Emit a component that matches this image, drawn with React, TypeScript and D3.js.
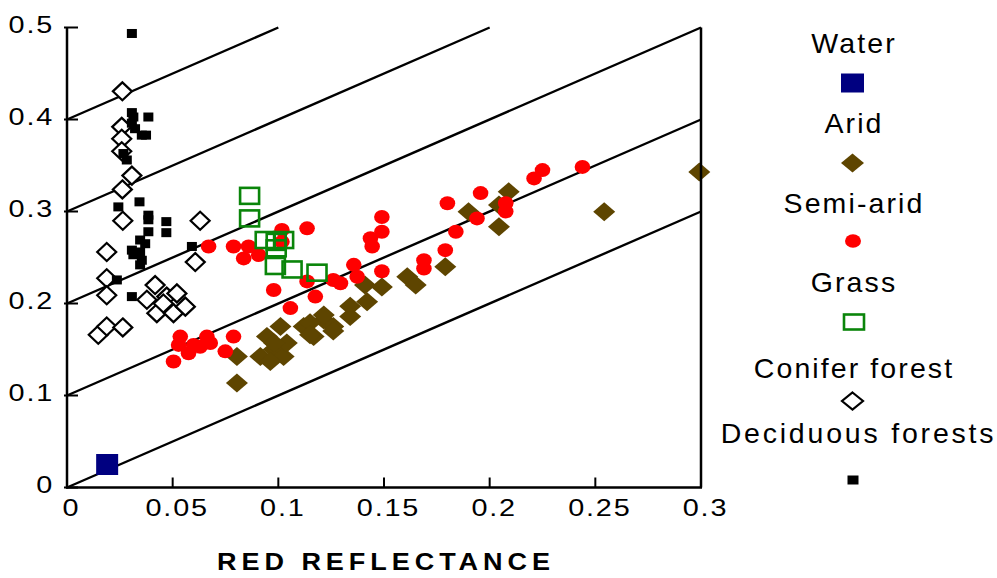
import React from "react";
import * as d3 from "d3";

// ---- data (red reflectance, NIR reflectance) ----
const waterPts: [number, number][] = [[0.019, 0.025]];

const aridPts: [number, number][] = [
  [0.0804, 0.1424], [0.0804, 0.1135], [0.0946, 0.164], [0.101, 0.175], [0.0915, 0.1424],
  [0.0978, 0.15], [0.1025, 0.1424], [0.0962, 0.137], [0.104, 0.157], [0.098, 0.157],
  [0.112, 0.175], [0.1167, 0.164], [0.1215, 0.182], [0.126, 0.175], [0.115, 0.179],
  [0.115, 0.166], [0.1215, 0.1876], [0.126, 0.17], [0.134, 0.197], [0.134, 0.186],
  [0.141, 0.22], [0.142, 0.202], [0.149, 0.218], [0.161, 0.229], [0.165, 0.22],
  [0.179, 0.24], [0.19, 0.2997], [0.2044, 0.307], [0.2044, 0.2835], [0.209, 0.3214],
  [0.2542, 0.2997], [0.2992, 0.343],
];

const semiAridPts: [number, number][] = [
  [0.0536, 0.164], [0.0662, 0.164], [0.0788, 0.164], [0.0528, 0.155], [0.0599, 0.155],
  [0.0678, 0.157], [0.0749, 0.148], [0.0504, 0.137], [0.0575, 0.146], [0.063, 0.153],
  [0.067, 0.262], [0.0788, 0.262], [0.0859, 0.262], [0.0836, 0.249], [0.0907, 0.2527],
  [0.1017, 0.28], [0.1017, 0.267], [0.1136, 0.2817], [0.0978, 0.2147], [0.1175, 0.2075],
  [0.1057, 0.195], [0.126, 0.2256], [0.1136, 0.224], [0.1294, 0.222], [0.1357, 0.242],
  [0.1373, 0.229], [0.149, 0.294], [0.149, 0.278], [0.1436, 0.271], [0.1444, 0.262],
  [0.149, 0.235], [0.1689, 0.247], [0.1689, 0.238], [0.179, 0.258], [0.18, 0.309],
  [0.184, 0.278], [0.194, 0.2925], [0.1957, 0.32], [0.2076, 0.309], [0.2076, 0.3],
  [0.221, 0.336], [0.225, 0.345], [0.2439, 0.3485],
];

const grassPts: [number, number][] = [
  [0.0864, 0.317], [0.0864, 0.2925], [0.0938, 0.269], [0.099, 0.267], [0.1025, 0.269],
  [0.099, 0.26], [0.0986, 0.2408], [0.1065, 0.237], [0.1183, 0.2335],
];

const coniferPts: [number, number][] = [
  [0.0262, 0.4306], [0.0259, 0.392], [0.0259, 0.379], [0.0259, 0.3655], [0.0307, 0.339],
  [0.0262, 0.324], [0.0264, 0.29], [0.063, 0.29], [0.0188, 0.256], [0.0607, 0.245],
  [0.0188, 0.2275], [0.0188, 0.209], [0.0417, 0.22], [0.0378, 0.204], [0.0472, 0.2075],
  [0.052, 0.211], [0.0425, 0.1895], [0.0504, 0.1895], [0.056, 0.1966], [0.0456, 0.2],
  [0.0148, 0.166], [0.0188, 0.175], [0.0264, 0.174],
];

const deciduousPts: [number, number][] = [
  [0.0307, 0.4935], [0.0307, 0.4075], [0.0314, 0.4027], [0.0385, 0.4027], [0.0307, 0.396],
  [0.0322, 0.39], [0.0354, 0.383], [0.0374, 0.383], [0.0267, 0.363], [0.0283, 0.356],
  [0.0243, 0.305], [0.0343, 0.3105], [0.0385, 0.296], [0.0385, 0.291], [0.0385, 0.278],
  [0.047, 0.289], [0.047, 0.277], [0.0346, 0.269], [0.037, 0.265], [0.0307, 0.258],
  [0.0346, 0.256], [0.0314, 0.253], [0.0354, 0.247], [0.0346, 0.242], [0.0591, 0.262],
  [0.0236, 0.2256], [0.0307, 0.2075],
];

const xTicks = [0, 0.05, 0.1, 0.15, 0.2, 0.25, 0.3];
const xTickLabels = ["0", "0.05", "0.1", "0.15", "0.2", "0.25", "0.3"];
const yTicks = [0, 0.1, 0.2, 0.3, 0.4, 0.5];
const yTickLabels = ["0", "0.1", "0.2", "0.3", "0.4", "0.5"];
const soilLineOffsets = [0, 0.1, 0.2, 0.3, 0.4];
const legendLabels = ["Water", "Arid", "Semi-arid", "Grass", "Conifer forest", "Deciduous forests"];
const xTitle = "RED REFLECTANCE";

const FONT = "'Liberation Sans', Arial, Helvetica, sans-serif";
const NAVY = "#000080";
const BROWN = "#5e4500";
const RED = "#ff0000";
const GREEN = "#0a850a";

export default function App() {
  const x = d3.scaleLinear().domain([0, 0.3]).range([67, 701]);
  const y = d3.scaleLinear().domain([0, 0.5]).range([487.5, 27.5]);
  const xMax = 0.3, yMax = 0.5;

  const line = d3.line<[number, number]>().x(d => x(d[0])).y(d => y(d[1]));

  const diamond = (cx: number, cy: number, w: number, h: number) =>
    `M${cx},${cy - h / 2}L${cx + w / 2},${cy}L${cx},${cy + h / 2}L${cx - w / 2},${cy}Z`;

  const drawWater = (cx: number, cy: number, w: number, h: number, k: string) => (
    <rect key={k} x={cx - w / 2} y={cy - h / 2} width={w} height={h} fill={NAVY} />
  );
  const drawArid = (cx: number, cy: number, k: string) => (
    <path key={k} d={diamond(cx, cy, 22, 19)} fill={BROWN} />
  );
  const drawSemi = (cx: number, cy: number, k: string) => (
    <ellipse key={k} cx={cx} cy={cy} rx={7.8} ry={7} fill={RED} />
  );
  const drawGrass = (cx: number, cy: number, k: string) => (
    <rect key={k} x={cx - 9.5} y={cy - 8} width={19} height={16} fill="none" stroke={GREEN} strokeWidth={2.6} />
  );
  const drawConifer = (cx: number, cy: number, k: string) => (
    <path key={k} d={diamond(cx, cy, 19, 18)} fill="#fff" stroke="#000" strokeWidth={2.2} />
  );
  const drawDecid = (cx: number, cy: number, k: string) => (
    <rect key={k} x={cx - 5} y={cy - 4.5} width={10} height={9} fill="#000" />
  );

  const legendX = 852.5;
  const legendTextY = [53, 133, 213, 292, 378, 443];
  const legendMarkY = [83, 163, 241, 322, 401, 480];
  const SX = 1.2;

  return (
    <svg width={997} height={578} style={{ position: "absolute", left: 0, top: 0, background: "#fff" }}
      fontFamily={FONT}>
      <rect x={0} y={0} width={997} height={578} fill="#fff" />

      {/* soil lines y = x + c */}
      {soilLineOffsets.map((c, i) => {
        const xEnd = Math.min(xMax, yMax - c);
        return (
          <path key={"l" + i} d={line([[0, c], [xEnd, xEnd + c]]) || ""} fill="none" stroke="#000" strokeWidth={2.4} />
        );
      })}

      {/* markers */}
      {coniferPts.map((p, i) => drawConifer(x(p[0]), y(p[1]), "c" + i))}
      {deciduousPts.map((p, i) => drawDecid(x(p[0]), y(p[1]), "d" + i))}
      {aridPts.map((p, i) => drawArid(x(p[0]), y(p[1]), "a" + i))}
      {semiAridPts.map((p, i) => drawSemi(x(p[0]), y(p[1]), "s" + i))}
      {grassPts.map((p, i) => drawGrass(x(p[0]), y(p[1]), "g" + i))}
      {waterPts.map((p, i) => drawWater(x(p[0]), y(p[1]), 22, 21, "w" + i))}

      {/* axes */}
      <line x1={x(0)} x2={x(0)} y1={y(0) + 1} y2={y(yMax)} stroke="#000" strokeWidth={2.5} />
      <line x1={x(0) - 1} x2={x(xMax) + 1} y1={y(0)} y2={y(0)} stroke="#000" strokeWidth={2.5} />
      <line x1={x(xMax)} x2={x(xMax)} y1={y(0)} y2={y(yMax)} stroke="#000" strokeWidth={2.5} />

      {yTicks.map((t, i) => (
        <g key={"yt" + i}>
          <line x1={x(0) - 3} x2={x(0) + 11} y1={y(t)} y2={y(t)} stroke="#000" strokeWidth={2} />
          <g transform={`translate(54,${y(t) + 5}) scale(${SX},1)`}>
            <text x={0} y={0} textAnchor="end" fontSize={24} letterSpacing={1.5} fill="#000">
              {yTickLabels[i]}
            </text>
          </g>
        </g>
      ))}
      {xTicks.map((t, i) => (
        <g key={"xt" + i}>
          <line x1={x(t)} x2={x(t)} y1={y(0)} y2={y(0) - 10} stroke="#000" strokeWidth={2} />
          <g transform={`translate(${x(t) + 4.5},516) scale(${SX},1)`}>
            <text x={0} y={0} textAnchor="middle" fontSize={24} letterSpacing={1.5} fill="#000">
              {xTickLabels[i]}
            </text>
          </g>
        </g>
      ))}

      <g transform={`translate(386,570) scale(1.15,1)`}>
        <text x={0} y={0} textAnchor="middle" fontSize={23.5} fontWeight="bold" letterSpacing={4.3} fill="#000">
          {xTitle}
        </text>
      </g>

      {/* legend */}
      {legendLabels.map((lab, i) => (
        <text key={"lt" + i} x={legendX + (i === 5 ? 6 : 1.5)} y={legendTextY[i]} textAnchor="middle"
          fontSize={28.5} letterSpacing={i === 5 ? 2.8 : 2.1} fill="#000">
          {lab}
        </text>
      ))}
      {drawWater(legendX, legendMarkY[0], 23, 19, "lw")}
      <path d={diamond(legendX, legendMarkY[1], 23, 19)} fill={BROWN} />
      <ellipse cx={legendX + 0.5} cy={legendMarkY[2]} rx={8} ry={6.8} fill={RED} />
      <rect x={legendX + 1.5 - 10} y={legendMarkY[3] - 7.5} width={20} height={15} fill="none" stroke={GREEN} strokeWidth={2.6} />
      <path d={diamond(legendX, legendMarkY[4], 21, 17)} fill="#fff" stroke="#000" strokeWidth={2.2} />
      <rect x={legendX + 0.5 - 5.5} y={legendMarkY[5] - 4.5} width={11} height={9} fill="#000" />
    </svg>
  );
}
